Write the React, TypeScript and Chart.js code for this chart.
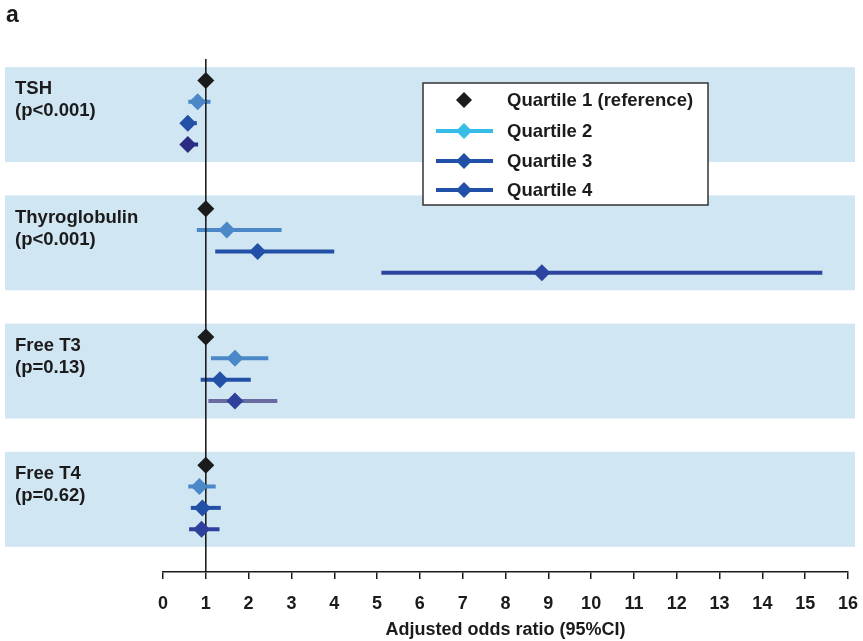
import React, { useEffect, useRef } from 'react';
import { Chart, registerables } from 'chart.js';

Chart.register(...registerables);

const groups = ['TSH', 'Thyroglobulin', 'Free T3', 'Free T4'];
const pValues = ['(p<0.001)', '(p<0.001)', '(p=0.13)', '(p=0.62)'];
const quartiles = ['Quartile 1 (reference)', 'Quartile 2', 'Quartile 3', 'Quartile 4'];

const q1OR = [1, 1, 1, 1];
const q2OR = [0.81, 1.49, 1.68, 0.85];
const q2Lo = [0.59, 0.79, 1.12, 0.59];
const q2Hi = [1.11, 2.77, 2.46, 1.23];
const q3OR = [0.58, 2.21, 1.33, 0.92];
const q3Lo = [0.46, 1.22, 0.88, 0.65];
const q3Hi = [0.79, 4.0, 2.05, 1.35];
const q4OR = [0.58, 8.85, 1.68, 0.9];
const q4Lo = [0.46, 5.1, 1.06, 0.61];
const q4Hi = [0.82, 15.4, 2.67, 1.32];

const xTicks = [0, 1, 2, 3, 4, 5, 6, 7, 8, 9, 10, 11, 12, 13, 14, 15, 16];
const referenceOR = 1;
const xTitle = 'Adjusted odds ratio (95%CI)';
const panelLabel = 'a';

const q1Color = ['#1b1b1b', '#1b1b1b', '#1b1b1b', '#1b1b1b'];
const q2Color = ['#4a88c8', '#4a88c8', '#4a88c8', '#4a88c8'];
const q3Color = ['#2150a6', '#2150a6', '#2150a6', '#2150a6'];
const q4Color = ['#2b2c84', '#2c45a0', '#2e3f9c', '#2e3f9c'];
const q4LineColor = ['#2b2c84', '#2c45a0', '#686c9f', '#2e3f9c'];
const legendColors = ['#1b1b1b', '#35bde8', '#2150a8', '#2150a8'];

const FONT = "'Liberation Sans', Arial, Helvetica, sans-serif";
const BAND = '#d0e6f2';
const ROWS_PER_GROUP = 6;

export default function App() {
  const ref = useRef<HTMLCanvasElement | null>(null);

  useEffect(() => {
    const canvas = ref.current;
    if (!canvas) return;

    const ors = [q1OR, q2OR, q3OR, q4OR];
    const los = [null, q2Lo, q3Lo, q4Lo];
    const his = [null, q2Hi, q3Hi, q4Hi];
    const mColors = [q1Color, q2Color, q3Color, q4Color];
    const lColors = [q1Color, q2Color, q3Color, q4LineColor];

    const diamondData: any[] = [];
    const diamondColors: string[] = [];
    const ciDatasets: any[] = [];
    groups.forEach((_, g) => {
      for (let q = 0; q < 4; q++) {
        const y = g * ROWS_PER_GROUP + q;
        diamondData.push({ x: ors[q][g], y });
        diamondColors.push(mColors[q][g]);
        const lo = los[q];
        const hi = his[q];
        if (lo && hi) {
          ciDatasets.push({
            type: 'scatter',
            showLine: true,
            data: [
              { x: lo[g], y },
              { x: hi[g], y },
            ],
            borderColor: lColors[q][g],
            borderWidth: 4,
            borderCapStyle: 'butt',
            pointRadius: 0,
            order: 3,
          });
        }
      }
    });

    const yMin = -1;
    const yMax = groups.length * ROWS_PER_GROUP - 1;

    const bandsPlugin = {
      id: 'bands',
      beforeDatasetsDraw(chart: any) {
        const { ctx, scales } = chart;
        const ys = scales.y;
        ctx.save();
        ctx.fillStyle = BAND;
        groups.forEach((_, g) => {
          const top = ys.getPixelForValue(g * ROWS_PER_GROUP - 0.62);
          const bottom = ys.getPixelForValue(g * ROWS_PER_GROUP + 3.82);
          ctx.fillRect(5, top, chart.width - 13, bottom - top);
        });
        ctx.fillStyle = '#1b1b1b';
        ctx.font = `bold 18.5px ${FONT}`;
        ctx.textBaseline = 'middle';
        ctx.textAlign = 'left';
        groups.forEach((name, g) => {
          const y0 = ys.getPixelForValue(g * ROWS_PER_GROUP);
          ctx.fillText(name, 15, y0 + 9);
          ctx.fillText(pValues[g], 15, y0 + 31);
        });
        ctx.restore();
      },
    };

    const overlayPlugin = {
      id: 'overlay',
      afterDraw(chart: any) {
        const { ctx, chartArea } = chart;
        ctx.save();
        ctx.fillStyle = '#1b1b1b';
        ctx.font = `bold 23px ${FONT}`;
        ctx.textBaseline = 'middle';
        ctx.textAlign = 'left';
        ctx.fillText(panelLabel, 6, 16);

        const left = chartArea.left + 260;
        const top = chartArea.top + 24;
        const w = 285;
        const h = 122;
        ctx.fillStyle = '#ffffff';
        ctx.fillRect(left, top, w, h);
        ctx.strokeStyle = '#333333';
        ctx.lineWidth = 1.5;
        ctx.strokeRect(left, top, w, h);
        const rowY = [17, 48, 78, 107];
        quartiles.forEach((label, q) => {
          const y = top + rowY[q];
          const cx = left + 41;
          ctx.fillStyle = legendColors[q];
          ctx.strokeStyle = legendColors[q];
          if (q > 0) {
            ctx.lineWidth = 4;
            ctx.beginPath();
            ctx.moveTo(left + 13, y);
            ctx.lineTo(left + 70, y);
            ctx.stroke();
          }
          const r = 8;
          ctx.beginPath();
          ctx.moveTo(cx, y - r);
          ctx.lineTo(cx + r, y);
          ctx.lineTo(cx, y + r);
          ctx.lineTo(cx - r, y);
          ctx.closePath();
          ctx.fill();
          ctx.fillStyle = '#1b1b1b';
          ctx.font = `bold 18.5px ${FONT}`;
          ctx.fillText(label, left + 84, y + 1);
        });
        ctx.restore();
      },
    };

    const chart = new Chart(canvas, {
      type: 'scatter',
      data: {
        datasets: [
          {
            type: 'scatter',
            data: diamondData,
            backgroundColor: diamondColors,
            borderColor: diamondColors,
            borderWidth: 0,
            pointStyle: 'rectRot',
            pointRadius: 8.5,
            order: 0,
          },
          {
            type: 'scatter',
            showLine: true,
            data: [
              { x: referenceOR, y: yMin },
              { x: referenceOR, y: yMax },
            ],
            borderColor: '#111111',
            borderWidth: 1.5,
            pointRadius: 0,
            order: 1,
          },
          ...ciDatasets,
        ],
      } as any,
      options: {
        animation: false,
        responsive: false,
        layout: { padding: { left: 163, right: 15, top: 59, bottom: 0 } },
        plugins: {
          legend: { display: false },
          tooltip: { enabled: false },
        },
        scales: {
          x: {
            type: 'linear',
            min: 0,
            max: 16,
            afterBuildTicks: (s: any) => {
              s.ticks = xTicks.map((v) => ({ value: v }));
            },
            afterFit: (s: any) => {
              s.height = 69;
              s.paddingLeft = 0;
              s.paddingRight = 0;
            },
            ticks: {
              autoSkip: false,
              maxRotation: 0,
              padding: 14,
              color: '#1b1b1b',
              font: { family: FONT, size: 18, weight: 'bold' },
            },
            grid: {
              drawOnChartArea: false,
              drawTicks: true,
              tickLength: 7,
              color: '#1b1b1b',
              lineWidth: 1.5,
            },
            border: { display: true, color: '#1b1b1b', width: 1.5 },
            title: {
              display: true,
              text: xTitle,
              color: '#1b1b1b',
              font: { family: FONT, size: 18, weight: 'bold' },
              padding: { top: 4, bottom: 0 },
            },
          },
          y: {
            type: 'linear',
            min: yMin,
            max: yMax,
            reverse: true,
            display: false,
          },
        },
      } as any,
      plugins: [bandsPlugin, overlayPlugin],
    });

    return () => chart.destroy();
  }, []);

  return (
    <div style={{ position: 'absolute', left: 0, top: 0, width: 863, height: 641 }}>
      <canvas ref={ref} width={863} height={641} style={{ display: 'block' }} />
    </div>
  );
}
